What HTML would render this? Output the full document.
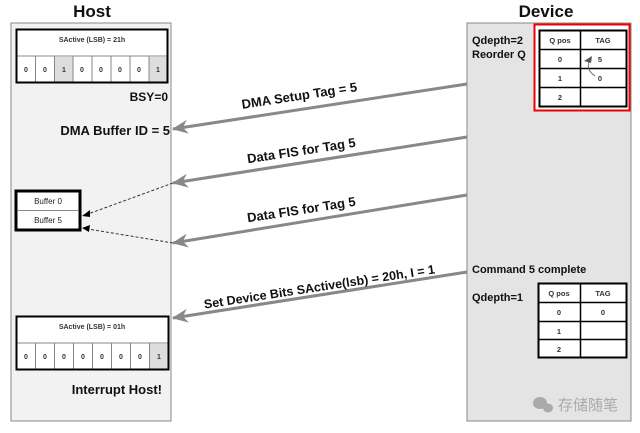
<!DOCTYPE html>
<html><head><meta charset="utf-8"><style>body{margin:0;background:#fff}svg{display:block}text{font-family:"Liberation Sans",Arial,sans-serif}</style></head>
<body>
<svg width="640" height="433" viewBox="0 0 640 433" xmlns="http://www.w3.org/2000/svg">
<defs>
<marker id="ga" markerWidth="16" markerHeight="14" refX="15" refY="7" orient="auto" markerUnits="userSpaceOnUse" viewBox="0 0 16 14"><path d="M16,7 L0,0 L5,7 L0,14z" fill="#888"/></marker>
</defs>
<text x="92" y="17" font-size="17" font-weight="bold" text-anchor="middle" fill="#111">Host</text>
<text x="546" y="17" font-size="17" font-weight="bold" text-anchor="middle" fill="#111">Device</text>
<rect x="11" y="23" width="160" height="398" fill="#f2f2f2" stroke="#888" stroke-width="1"/>
<rect x="467" y="23" width="164" height="398" fill="#e4e4e4" stroke="#888" stroke-width="1"/>

<g stroke="#000" stroke-width="1">
<rect x="16.5" y="29.5" width="151" height="53" fill="#fff" stroke-width="2"/>
<line x1="16" y1="56" x2="168" y2="56" stroke="#888"/>
<rect x="54" y="57" width="18.5" height="25" fill="#ddd" stroke="none"/>
<rect x="149" y="57" width="18" height="25" fill="#ddd" stroke="none"/>
<g stroke="#888"><line x1="35.5" y1="56" x2="35.5" y2="82"/><line x1="54.5" y1="56" x2="54.5" y2="82"/><line x1="73" y1="56" x2="73" y2="82"/><line x1="92" y1="56" x2="92" y2="82"/><line x1="111" y1="56" x2="111" y2="82"/><line x1="130" y1="56" x2="130" y2="82"/><line x1="149" y1="56" x2="149" y2="82"/></g>
<rect x="16.5" y="29.5" width="151" height="53" fill="none" stroke-width="2"/>
</g>
<text x="92" y="42" font-size="7" font-weight="bold" text-anchor="middle" fill="#333">SActive (LSB) = 21h</text>
<g font-size="7" font-weight="bold" text-anchor="middle" fill="#333">
<text x="26" y="72">0</text><text x="45" y="72">0</text><text x="64" y="72">1</text><text x="82" y="72">0</text><text x="101" y="72">0</text><text x="120" y="72">0</text><text x="139" y="72">0</text><text x="158" y="72">1</text></g>
<text x="168" y="101" font-size="12" font-weight="bold" text-anchor="end" fill="#111">BSY=0</text>
<text x="170" y="135" font-size="13" font-weight="bold" text-anchor="end" fill="#111">DMA Buffer ID = 5</text>

<rect x="16" y="191" width="64" height="39" fill="#fff" stroke="#000" stroke-width="3"/>
<line x1="17" y1="210.5" x2="79" y2="210.5" stroke="#888"/>
<text x="48" y="204" font-size="8" text-anchor="middle" fill="#222">Buffer 0</text>
<text x="48" y="223" font-size="8" text-anchor="middle" fill="#222">Buffer 5</text>
<line x1="173" y1="183" x2="88" y2="214" stroke="#333" stroke-dasharray="3,2"/>
<path d="M82,216 L90,210 L90,217z" fill="#000"/>
<line x1="173" y1="243" x2="88" y2="229" stroke="#333" stroke-dasharray="3,2"/>
<path d="M82,228 L90,225 L89,232z" fill="#000"/>

<g stroke="#000">
<rect x="16.5" y="316.5" width="152" height="53" fill="#fff" stroke-width="2"/>
<rect x="150" y="344" width="18" height="25" fill="#ddd" stroke="none"/>
<line x1="16" y1="343" x2="168" y2="343" stroke="#888"/>
<g stroke="#888"><line x1="35.5" y1="343" x2="35.5" y2="369"/><line x1="54.5" y1="343" x2="54.5" y2="369"/><line x1="73.5" y1="343" x2="73.5" y2="369"/><line x1="92.5" y1="343" x2="92.5" y2="369"/><line x1="111.5" y1="343" x2="111.5" y2="369"/><line x1="130.5" y1="343" x2="130.5" y2="369"/><line x1="149.5" y1="343" x2="149.5" y2="369"/></g>
<rect x="16.5" y="316.5" width="152" height="53" fill="none" stroke-width="2"/>
</g>
<text x="92" y="329" font-size="7" font-weight="bold" text-anchor="middle" fill="#333">SActive (LSB) = 01h</text>
<g font-size="7" font-weight="bold" text-anchor="middle" fill="#333">
<text x="26" y="359">0</text><text x="45" y="359">0</text><text x="64" y="359">0</text><text x="83" y="359">0</text><text x="102" y="359">0</text><text x="121" y="359">0</text><text x="140" y="359">0</text><text x="159" y="359">1</text></g>
<text x="162" y="394" font-size="13" font-weight="bold" text-anchor="end" fill="#111">Interrupt Host!</text>

<g stroke="#888" stroke-width="3" fill="none">
<line x1="467" y1="84" x2="173" y2="129" marker-end="url(#ga)"/>
<line x1="467" y1="137" x2="173" y2="183" marker-end="url(#ga)"/>
<line x1="467" y1="195" x2="173" y2="243" marker-end="url(#ga)"/>
<line x1="467" y1="272" x2="173" y2="318" marker-end="url(#ga)"/>
</g>
<g font-size="13" font-weight="bold" fill="#111" text-anchor="middle">
<text transform="translate(300,100) rotate(-8.7)">DMA Setup Tag = 5</text>
<text transform="translate(302,155) rotate(-8.7)">Data FIS for Tag 5</text>
<text transform="translate(302,214) rotate(-8.7)">Data FIS for Tag 5</text>
<text transform="translate(320,291) rotate(-8.7)" font-size="12.5">Set Device Bits SActive(lsb) = 20h, I = 1</text>
</g>

<text x="472" y="44" font-size="11" font-weight="bold" fill="#111">Qdepth=2</text>
<text x="472" y="58" font-size="11" font-weight="bold" fill="#111">Reorder Q</text>
<rect x="534.5" y="24.5" width="95" height="86" fill="#fff" stroke="#e00" stroke-width="2"/>
<g stroke="#000">
<rect x="539.5" y="30.5" width="87" height="76" fill="#fff" stroke-width="2"/>
<line x1="580.5" y1="30" x2="580.5" y2="106" stroke-width="1.5"/>
<line x1="539" y1="49.5" x2="626" y2="49.5" stroke-width="1.5"/>
<line x1="539" y1="68.5" x2="626" y2="68.5" stroke-width="1.5"/>
<line x1="539" y1="87.5" x2="626" y2="87.5" stroke-width="1.5"/>
</g>
<g font-size="7.5" font-weight="bold" fill="#333" text-anchor="middle">
<text x="560" y="43">Q pos</text><text x="603" y="43">TAG</text>
<text x="560" y="62">0</text><text x="600" y="62">5</text>
<text x="560" y="81">1</text><text x="600" y="81">0</text>
<text x="560" y="100">2</text></g>
<path d="M595,76 Q586,70 589,61" stroke="#555" fill="none" stroke-width="0.8"/>
<path d="M584,61 L592,56 L591,63z" fill="#555"/>

<text x="472" y="273" font-size="11" font-weight="bold" fill="#111">Command 5 complete</text>
<text x="472" y="301" font-size="11" font-weight="bold" fill="#111">Qdepth=1</text>
<g stroke="#000">
<rect x="538.5" y="283.5" width="88" height="74" fill="#fff" stroke-width="2"/>
<line x1="580.5" y1="283" x2="580.5" y2="357" stroke-width="1.5"/>
<line x1="538" y1="302.5" x2="626" y2="302.5" stroke-width="1.5"/>
<line x1="538" y1="321.5" x2="626" y2="321.5" stroke-width="1.5"/>
<line x1="538" y1="339.5" x2="626" y2="339.5" stroke-width="1.5"/>
</g>
<g font-size="7.5" font-weight="bold" fill="#333" text-anchor="middle">
<text x="559" y="296">Q pos</text><text x="603" y="296">TAG</text>
<text x="559" y="315">0</text><text x="603" y="315">0</text>
<text x="559" y="334">1</text><text x="559" y="352">2</text></g>

<g fill="#aaa"><ellipse cx="540" cy="403" rx="7" ry="6"/><ellipse cx="548" cy="408" rx="5" ry="4.5"/></g>
<text x="558" y="410" font-size="15" fill="#aaa" font-family="'Noto Sans CJK SC',sans-serif">存储随笔</text>
</svg>
</body></html>
